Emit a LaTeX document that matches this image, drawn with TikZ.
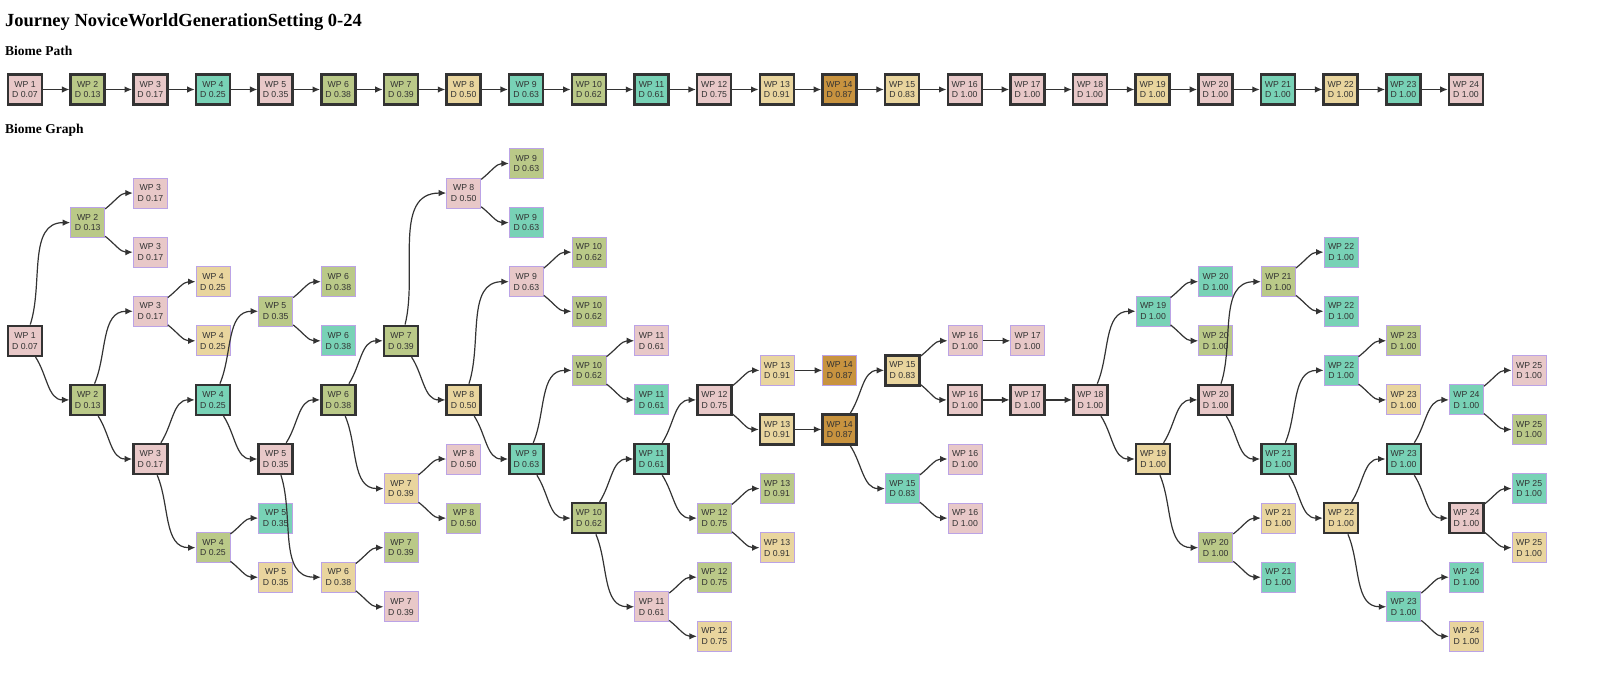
\documentclass[tikz,border=0pt]{standalone}
\usepackage{fontspec}
\setmainfont{Liberation Serif}
\newfontfamily\boxfont{Liberation Sans}
\usetikzlibrary{arrows.meta}

\definecolor{bpink}{HTML}{E8C8C8}
\definecolor{bgreen}{HTML}{BAC988}
\definecolor{bteal}{HTML}{78D2B6}
\definecolor{bsand}{HTML}{E9D59E}
\definecolor{bbrown}{HTML}{C8933F}
\definecolor{thinedge}{HTML}{BBA3E6}
\definecolor{ink}{HTML}{333333}

% difficulty of each waypoint
\newcommand\dval[1]{\ifcase#1 \or 0.07\or 0.13\or 0.17\or 0.25\or 0.35\or 0.38\or 0.39\or 0.50\or 0.63\or 0.62\or 0.61\or 0.75\or 0.91\or 0.87\or 0.83\else 1.00\fi}

\tikzset{
	wpbox/.style={draw=thinedge, line width=1pt, minimum width=34pt, minimum height=30pt, inner sep=0pt, align=center, text=ink, font=\boxfont\fontsize{8.7}{10.7}\selectfont},
	onpath/.style={wpbox, draw=ink, line width=2.5pt},
	link/.style={-{Latex[length=7.5pt,width=6.5pt]}, draw=ink, line width=1.2pt},
	heading/.style={anchor=base west, inner sep=0pt, font=\bfseries\fontsize{#1}{#1}\selectfont}
}

\begin{document}
\begin{tikzpicture}[x=1pt,y=1pt]
		\useasboundingbox (0,0) rectangle (1600,-673);
		
		\node[heading=18.5] (title) at (5,-26) {Journey NoviceWorldGenerationSetting 0-24};
		\node[heading=13.5] (pathhead) at (5,-55) {Biome Path};
		\node[heading=13.5] (graphhead) at (5,-133) {Biome Graph};
		
		% biome path
		\foreach \i/\c in {1/bpink,2/bgreen,3/bpink,4/bteal,5/bpink,6/bgreen,7/bgreen,8/bsand,9/bteal,10/bgreen,11/bteal,12/bpink,13/bsand,14/bbrown,15/bsand,16/bpink,17/bpink,18/bpink,19/bsand,20/bpink,21/bteal,22/bsand,23/bteal,24/bpink}
		\node[onpath, fill=\c] (p\i) at ({25+62.65*(\i-1)},-89.5) {WP \i\\D \dval{\i}};
		\foreach \i [count=\j from 2] in {1,...,23}
		\draw[link] (p\i) -- (p\j);
		
		% biome graph
		\foreach \w/\r/\c/\s in {1/6/bpink/onpath,
			2/2/bgreen/wpbox, 2/8/bgreen/onpath,
			3/1/bpink/wpbox, 3/3/bpink/wpbox, 3/5/bpink/wpbox, 3/10/bpink/onpath,
			4/4/bsand/wpbox, 4/6/bsand/wpbox, 4/8/bteal/onpath, 4/13/bgreen/wpbox,
			5/5/bgreen/wpbox, 5/10/bpink/onpath, 5/12/bteal/wpbox, 5/14/bsand/wpbox,
			6/4/bgreen/wpbox, 6/6/bteal/wpbox, 6/8/bgreen/onpath, 6/14/bsand/wpbox,
			7/6/bgreen/onpath, 7/11/bsand/wpbox, 7/13/bgreen/wpbox, 7/15/bpink/wpbox,
			8/1/bpink/wpbox, 8/8/bsand/onpath, 8/10/bpink/wpbox, 8/12/bgreen/wpbox,
			9/0/bgreen/wpbox, 9/2/bteal/wpbox, 9/4/bpink/wpbox, 9/10/bteal/onpath,
			10/3/bgreen/wpbox, 10/5/bgreen/wpbox, 10/7/bgreen/wpbox, 10/12/bgreen/onpath,
			11/6/bpink/wpbox, 11/8/bteal/wpbox, 11/10/bteal/onpath, 11/15/bpink/wpbox,
			12/8/bpink/onpath, 12/12/bgreen/wpbox, 12/14/bgreen/wpbox, 12/16/bsand/wpbox,
			13/7/bsand/wpbox, 13/9/bsand/onpath, 13/11/bgreen/wpbox, 13/13/bsand/wpbox,
			14/7/bbrown/wpbox, 14/9/bbrown/onpath,
			15/7/bsand/onpath, 15/11/bteal/wpbox,
			16/6/bpink/wpbox, 16/8/bpink/onpath, 16/10/bpink/wpbox, 16/12/bpink/wpbox,
			17/6/bpink/wpbox, 17/8/bpink/onpath,
			18/8/bpink/onpath,
			19/5/bteal/wpbox, 19/10/bsand/onpath,
			20/4/bteal/wpbox, 20/6/bgreen/wpbox, 20/8/bpink/onpath, 20/13/bgreen/wpbox,
			21/4/bgreen/wpbox, 21/10/bteal/onpath, 21/12/bsand/wpbox, 21/14/bteal/wpbox,
			22/3/bteal/wpbox, 22/5/bteal/wpbox, 22/7/bteal/wpbox, 22/12/bsand/onpath,
			23/6/bgreen/wpbox, 23/8/bsand/wpbox, 23/10/bteal/onpath, 23/15/bteal/wpbox,
			24/8/bteal/wpbox, 24/12/bpink/onpath, 24/14/bteal/wpbox, 24/16/bsand/wpbox,
			25/7/bpink/wpbox, 25/9/bgreen/wpbox, 25/11/bteal/wpbox, 25/13/bsand/wpbox}
		\node[\s, fill=\c] (n\w-\r) at ({25+62.67*(\w-1)},{-163.5-29.55*\r}) {WP \w\\D \dval{\w}};
		
		\foreach \a/\b/\o in {1-6/2-2/72, 1-6/2-8/-57,
			2-2/3-1/38, 2-2/3-3/-38, 2-8/3-5/67, 2-8/3-10/-57,
			3-5/4-4/38, 3-5/4-6/-38, 3-10/4-8/57, 3-10/4-13/-67,
			4-8/5-5/67, 4-8/5-10/-57, 4-13/5-12/38, 4-13/5-14/-38,
			5-5/6-4/38, 5-5/6-6/-38, 5-10/6-8/57, 5-10/6-14/-72,
			6-8/7-6/57, 6-8/7-11/-67, 6-14/7-13/38, 6-14/7-15/-38,
			7-6/8-1/76, 7-6/8-8/-57, 7-11/8-10/38, 7-11/8-12/-38,
			8-1/9-0/38, 8-1/9-2/-38, 8-8/9-4/72, 8-8/9-10/-57,
			9-4/10-3/38, 9-4/10-5/-38, 9-10/10-7/67, 9-10/10-12/-57,
			10-7/11-6/38, 10-7/11-8/-38, 10-12/11-10/57, 10-12/11-15/-67,
			11-10/12-8/57, 11-10/12-12/-57, 11-15/12-14/38, 11-15/12-16/-38,
			12-8/13-7/38, 12-8/13-9/-38, 12-12/13-11/38, 12-12/13-13/-38,
			13-7/14-7/0, 13-9/14-9/0,
			14-9/15-7/57, 14-9/15-11/-57,
			15-7/16-6/38, 15-7/16-8/-38, 15-11/16-10/38, 15-11/16-12/-38,
			16-6/17-6/0, 16-8/17-8/0, 17-8/18-8/0,
			18-8/19-5/67, 18-8/19-10/-57,
			19-5/20-4/38, 19-5/20-6/-38, 19-10/20-8/57, 19-10/20-13/-67,
			20-8/21-4/72, 20-8/21-10/-57, 20-13/21-12/38, 20-13/21-14/-38,
			21-4/22-3/38, 21-4/22-5/-38, 21-10/22-7/67, 21-10/22-12/-57,
			22-7/23-6/38, 22-7/23-8/-38, 22-12/23-10/57, 22-12/23-15/-67,
			23-10/24-8/57, 23-10/24-12/-57, 23-15/24-14/38, 23-15/24-16/-38,
			24-8/25-7/38, 24-8/25-9/-38, 24-12/25-11/38, 24-12/25-13/-38}
		\draw[link] (n\a) to[out=\o,in=180] (n\b);
\end{tikzpicture}
\end{document}
